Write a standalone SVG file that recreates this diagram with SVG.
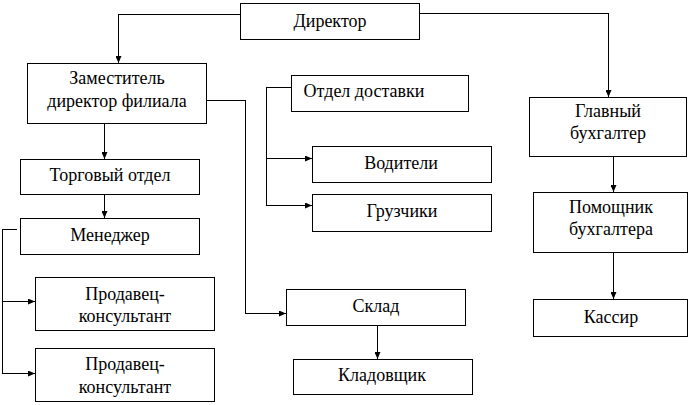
<svg xmlns="http://www.w3.org/2000/svg" width="692" height="405" viewBox="0 0 692 405">
<style>
.box{fill:#fff;stroke:#000;stroke-width:1;shape-rendering:crispEdges}
text{font-family:'Liberation Serif','Times New Roman',serif;font-size:18px;fill:#000;text-anchor:middle}
.con{fill:none;stroke:#000;stroke-width:1;shape-rendering:crispEdges}
</style>
<defs>
<marker id="arr" viewBox="0 0 7 6" refX="7" refY="3" markerWidth="7" markerHeight="6" markerUnits="userSpaceOnUse" orient="auto">
<path d="M0,0 L7,3 L0,6 Z" fill="#000"/>
</marker>
</defs>
<rect width="692" height="405" fill="#fff"/>
<g id="connectors">
<path class="con" d="M240.5,14.5 H118.5 V63" marker-end="url(#arr)"/>
<path class="con" d="M419.5,13.5 H608.5 V97" marker-end="url(#arr)"/>
<path class="con" d="M206.5,100.5 H245.5 V313.5 H286" marker-end="url(#arr)"/>
<path class="con" d="M104.5,123.5 V159" marker-end="url(#arr)"/>
<path class="con" d="M104.5,194.5 V218" marker-end="url(#arr)"/>
<path class="con" d="M16.5,229.5 H2.5 V373.5 H35" marker-end="url(#arr)"/>
<path class="con" d="M2.5,301.5 H35" marker-end="url(#arr)"/>
<path class="con" d="M291.5,87.5 H266.5 V205.5 H312" marker-end="url(#arr)"/>
<path class="con" d="M266.5,158.5 H312" marker-end="url(#arr)"/>
<path class="con" d="M377.5,325.5 V359" marker-end="url(#arr)"/>
<path class="con" d="M613.5,156.5 V192" marker-end="url(#arr)"/>
<path class="con" d="M613.5,252.5 V299" marker-end="url(#arr)"/>
</g>
<g id="director"><rect class="box" x="240.5" y="3.5" width="179" height="36"/><text x="330" y="27">Директор</text></g>
<g id="deputy"><rect class="box" x="27.5" y="63.5" width="179" height="60"/><text x="117" y="84">Заместитель</text><text x="117" y="107">директор филиала</text></g>
<g id="trade"><rect class="box" x="20.5" y="159.5" width="179" height="35"/><text x="110" y="181">Торговый отдел</text></g>
<g id="manager"><rect class="box" x="20.5" y="218.5" width="179" height="36"/><text x="110" y="241">Менеджер</text></g>
<g id="seller1"><rect class="box" x="35.5" y="277.5" width="179" height="53"/><text x="125" y="300">Продавец-</text><text x="125" y="322">консультант</text></g>
<g id="seller2"><rect class="box" x="35.5" y="348.5" width="179" height="53"/><text x="125" y="370">Продавец-</text><text x="125" y="393">консультант</text></g>
<g id="delivery"><rect class="box" x="291.5" y="75.5" width="177" height="36"/><text x="364" y="97">Отдел доставки</text></g>
<g id="drivers"><rect class="box" x="312.5" y="146.5" width="179" height="36"/><text x="401" y="169">Водители</text></g>
<g id="loaders"><rect class="box" x="312.5" y="194.5" width="179" height="37"/><text x="402" y="217">Грузчики</text></g>
<g id="warehouse"><rect class="box" x="286.5" y="289.5" width="179" height="36"/><text x="376" y="312">Склад</text></g>
<g id="storekeeper"><rect class="box" x="293.5" y="359.5" width="179" height="35"/><text x="382" y="381">Кладовщик</text></g>
<g id="chief-accountant"><rect class="box" x="529.5" y="97.5" width="157" height="59"/><text x="608" y="117">Главный</text><text x="608" y="139">бухгалтер</text></g>
<g id="assistant"><rect class="box" x="533.5" y="192.5" width="154" height="60"/><text x="611" y="213">Помощник</text><text x="611" y="235">бухгалтера</text></g>
<g id="cashier"><rect class="box" x="533.5" y="299.5" width="154" height="37"/><text x="611" y="323">Кассир</text></g>
</svg>
